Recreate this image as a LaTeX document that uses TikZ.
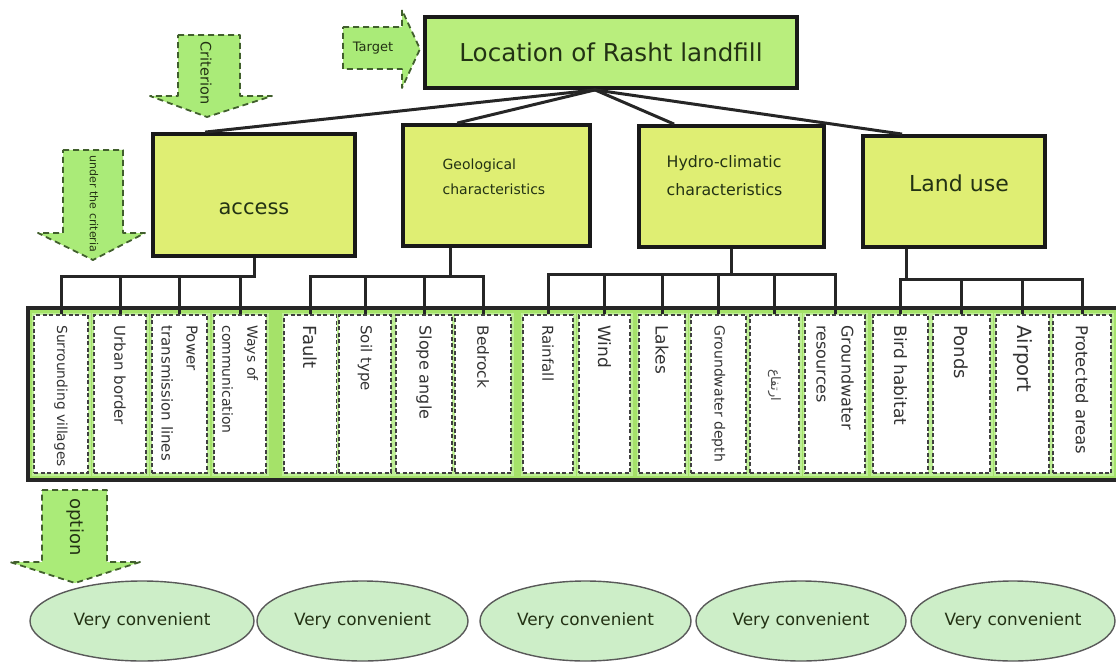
\documentclass[tikz,border=0pt]{standalone}
\usepackage{fontspec}
\setmainfont{DejaVu Sans}
\newfontfamily\arabicfont[Script=Arabic]{DejaVu Sans}
\TeXXeTstate=1
\usetikzlibrary{shapes.geometric,calc}

\definecolor{topfill}{RGB}{185,238,125}
\definecolor{catfill}{RGB}{223,238,115}
\definecolor{arrowfill}{RGB}{170,235,120}
\definecolor{arrowline}{RGB}{65,95,45}
\definecolor{bandgreen}{RGB}{165,226,105}
\definecolor{cellgreen}{RGB}{190,238,150}
\definecolor{ellfill}{RGB}{205,238,200}
\definecolor{darktext}{RGB}{35,50,20}

\begin{document}
\begin{tikzpicture}[x=1pt,y=-1pt
	,link/.style={draw=black!85,line width=3pt}
	,catbox/.style={draw=black!90,line width=3.8pt,fill=catfill}
	,blockarrow/.style={fill=arrowfill,draw=arrowline,line width=1.8pt,dash pattern=on 6pt off 4pt,line join=round}
	,arrowtext/.style={text=darktext,rotate=-90,inner sep=0pt}
	]
  \tikzstyle{cell}=[fill=white,draw=black!75,dash pattern=on 4pt off 2.5pt,line width=1.5pt
	,minimum height=158pt,inner sep=0pt
	,preaction={draw=cellgreen,solid,line width=5pt}]
  \tikzstyle{celltext}=[anchor=west,rotate=-90,align=left,inner sep=0pt,text=black!80]
  \tikzstyle{choice}=[ellipse,fill=ellfill,draw=black!65,line width=1.4pt,minimum height=80pt
	,text=darktext,font=\fontsize{16.9}{20}\selectfont]

  \useasboundingbox (0,0) rectangle (1116,663);
  \clip (0,0) rectangle (1116,663);

  % band of sub-criteria
  \draw[fill=bandgreen,draw=black!85,line width=3.2pt] (28,308) rectangle (1130,480);
  \foreach \n/\cx/\w in {1/61/54,2/120/52,3/179.5/55,4/240/52,5/310.5/53,6/365/52,7/424/56,8/483/56
	,9/548/50,10/604.5/51,11/662/46,12/718.5/55,13/774.5/49,14/835/60
	,15/900.5/55,16/961.5/57,17/1022.5/53,18/1082/58}
	\node[cell,minimum width=\w] (c\n) at (\cx,394) {};

  \foreach \n/\sz/\txt in {1/13.8/Surrounding villages,2/15/Urban border,3/15/Power\\transmission lines
	,4/14/Ways of\\communication,5/18/Fault,6/15/Soil type,7/16/Slope angle,8/15.4/Bedrock
	,9/15/Rainfall,10/17/Wind,11/17/Lakes,12/14/Groundwater depth,14/16/Groundwater\\resources
	,15/17/Bird habitat,16/18/Ponds,17/19.6/Airport,18/16.4/Protected areas}
	\node[celltext,font=\fontsize{\sz}{25}\selectfont] (t\n) at ([yshift=-11pt]c\n.north) {\txt};
  \node[rotate=-90,inner sep=0pt,text=black!70,font=\arabicfont\fontsize{13}{15}\selectfont] (t13) at ($(c13)+(0,-9)$) {\beginR ارتفاع\endR};

  % criteria
  \node[catbox,minimum width=202pt,minimum height=122pt] (acc) at (254,195) {};
  \node[catbox,minimum width=187pt,minimum height=121pt] (geo) at (496.5,185.5) {};
  \node[catbox,minimum width=185pt,minimum height=121pt] (hyd) at (731.5,186.5) {};
  \node[catbox,minimum width=182pt,minimum height=111pt] (lu) at (954,191.5) {};
  \node[text=darktext,font=\fontsize{21}{24}\selectfont] (acclbl) at ($(acc)+(0,14)$) {access};
  \node[anchor=west,align=left,text=darktext,font=\fontsize{14}{25}\selectfont] (geolbl)
	at ($(geo.west)+(38,-9)$) {Geological\\characteristics};
  \node[anchor=west,align=left,text=darktext,font=\fontsize{15.8}{28}\selectfont] (hydlbl)
	at ($(hyd.west)+(26,-10.5)$) {Hydro-climatic\\characteristics};
  \node[text=darktext,font=\fontsize{22}{25}\selectfont] (lulbl) at ($(lu)+(5,-8.5)$) {Land use};

  % target
  \node[draw=black!90,line width=3.8pt,fill=topfill,minimum width=372pt,minimum height=71pt
	,text=darktext,font=\fontsize{24.6}{28}\selectfont] (top) at (611,52.5) {Location of Rasht landfill};
  \coordinate (hub) at ($(top.south)+(-16,0)$);
  \path[link]
	(hub) edge ($(acc.north west)+(54,0)$)
	(hub) edge ($(geo.north west)+(56,0)$)
	(hub) edge ($(hyd.north west)+(37,0)$)
	(hub) edge ($(lu.north west)+(41,0)$);

  % criteria -> sub-criteria
  \coordinate (accbar) at ($(acc.south)+(0,19)$);
  \draw[link] (acc.south) -- (accbar) -| (c1.north);
  \foreach \c in {c2,c3,c4} \draw[link] (\c.north) -- (\c.north |- accbar);
  \coordinate (geobar) at ($(geo.south west)+(49,29)$);
  \draw[link] (geobar |- geo.south) -- (geobar);
  \draw[link] (c5.north) |- (geobar) -| (c8.north);
  \foreach \c in {c6,c7} \draw[link] (\c.north) -- (\c.north |- geobar);
  \coordinate (hydbar) at ($(hyd.south)+(0,26)$);
  \draw[link] (hyd.south) -- (hydbar);
  \draw[link] (c9.north) |- (hydbar) -| (c14.north);
  \foreach \c in {c10,c11,c12,c13} \draw[link] (\c.north) -- (\c.north |- hydbar);
  \coordinate (lubar) at ($(lu.south west)+(45,31)$);
  \draw[link] (lubar |- lu.south) -- (lubar);
  \draw[link] (c15.north) |- (lubar) -| (c18.north);
  \foreach \c in {c16,c17} \draw[link] (\c.north) -- (\c.north |- lubar);

  % level arrows
  \draw[blockarrow] (343,27) -- (402,27) -- (402,10) -- (420,49) -- (402,88) -- (402,69) -- (343,69) -- cycle;
  \node[text=darktext,inner sep=0pt,font=\fontsize{13}{15}\selectfont] (targetlbl) at (373,48) {Target};
  \draw[blockarrow] (178,35) -- (240,35) -- (240,96) -- (272,96) -- (207,117) -- (150,96) -- (178,96) -- cycle;
  \node[arrowtext,font=\fontsize{14.5}{16}\selectfont] (critlbl) at (206,73) {Criterion};
  \draw[blockarrow] (63,150) -- (123,150) -- (123,233) -- (145,233) -- (93,260) -- (38,233) -- (63,233) -- cycle;
  \node[arrowtext,font=\fontsize{11}{13}\selectfont] (sublbl) at (94,204) {under the criteria};
  \draw[blockarrow] (42,490) -- (107,490) -- (107,562) -- (140,562) -- (75,583) -- (10,562) -- (42,562) -- cycle;
  \node[arrowtext,font=\fontsize{18}{20}\selectfont] (optlbl) at (75,527) {option};

  % options
  \foreach \n/\cx/\w in {1/142/224,2/362.5/211,3/585.5/211,4/801/210,5/1013/204}
	\node[choice,minimum width=\w] (e\n) at (\cx,621) {Very convenient};
\end{tikzpicture}
\end{document}
